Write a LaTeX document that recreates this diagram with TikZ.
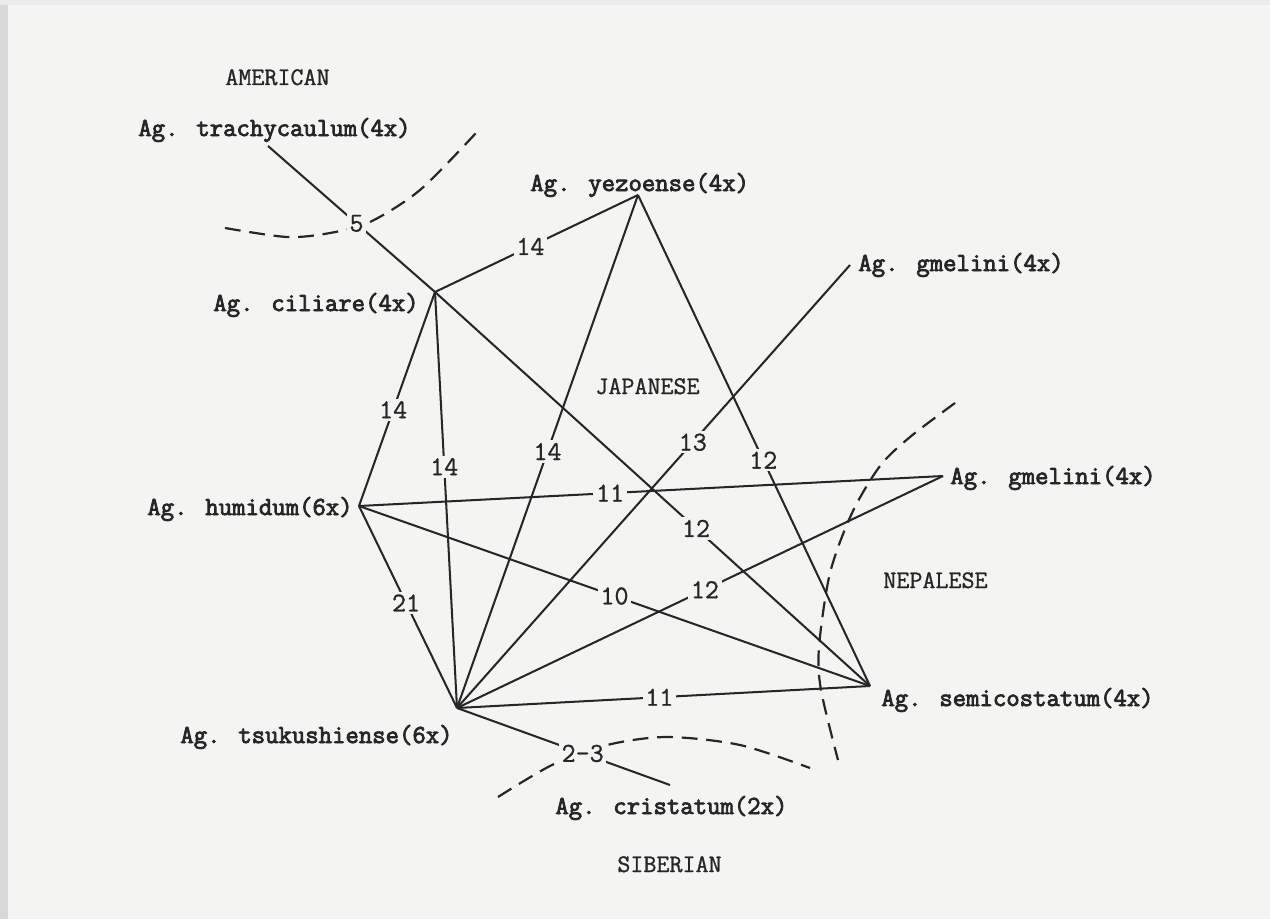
\documentclass[tikz,border=0pt]{standalone}
\usepackage{fontspec}
\newfontfamily\twb{Latin Modern Mono}[FakeBold=3]
\newfontfamily\twr{Latin Modern Mono}[FakeBold=1]
\definecolor{paper}{RGB}{244,244,242}
\definecolor{ink}{RGB}{38,38,38}
\begin{document}
\begin{tikzpicture}[x=0.02cm,y=-0.02cm,
  spname/.style={anchor=base west,inner sep=0pt,text=ink,font=\twb\fontsize{14.8}{17}\selectfont},
  region/.style={anchor=base west,inner sep=0pt,text=ink,font=\twr\fontsize{14.4}{17}\selectfont},
  lab/.style={fill=paper,inner sep=1.5pt,text=ink,font=\twr\fontsize{15.5}{17}\selectfont},
  link/.style={draw=ink,line width=1.15pt},
  border/.style={draw=ink,line width=1.25pt,dash pattern=on 9pt off 5pt}]
\fill[paper] (0,0) rectangle (1270,919);
\fill[black!15] (0,0) rectangle (8,919);
\fill[black!8] (0,0) rectangle (1270,5);
\useasboundingbox (0,0) rectangle (1270,919);

% text nodes
\node[region] (am)  at (225,85)  {AMERICAN};
\node[spname] (trT) at (138,136) {Ag. trachycaulum(4x)};
\node[spname] (yeT) at (530,191) {Ag. yezoense(4x)};
\node[spname] (g1T) at (858,271) {Ag. gmelini(4x)};
\node[spname] (ciT) at (213,311) {Ag. ciliare(4x)};
\node[region] (jp) at (595,394) {JAPANESE};
\node[spname] (g2T) at (950,484) {Ag. gmelini(4x)};
\node[spname] (huT) at (147,515) {Ag. humidum(6x)};
\node[region] (np) at (883,588) {NEPALESE};
\node[spname] (seT) at (881,706) {Ag. semicostatum(4x)};
\node[spname] (tsT) at (180,743) {Ag. tsukushiense(6x)};
\node[spname] (crT) at (555,814) {Ag. cristatum(2x)};
\node[region] (sb) at (617,872) {SIBERIAN};

% junction points
\coordinate (tr) at (268,146);
\coordinate (ye) at (638,195);
\coordinate (g1) at (850,265);
\coordinate (ci) at (435,292);
\coordinate (g2) at (943,476);
\coordinate (hu) at (359,506);
\coordinate (se) at (870,686);
\coordinate (ts) at (457,708);
\coordinate (cr) at (670,785);

% dashed boundaries
\draw[border] plot[smooth] coordinates {(225,228) (287,237) (330,233) (370,222) (420,190) (476,133)};
\draw[border] plot[smooth] coordinates {(955,403) (910,437) (880,466) (852,513) (830,573) (819,647) (821,690) (838,760)};
\draw[border] plot[smooth] coordinates {(498,797) (552,765) (607,745) (667,737) (740,745) (810,768)};

% connectors
\foreach \a/\b in {tr/ci, ci/ye, ci/se, ci/hu, ci/ts, ye/ts, ye/se, g1/ts, hu/g2, hu/se, hu/ts, ts/g2, ts/se, ts/cr}
  \draw[link] (\a) -- (\b);

% labels
\path (tr) -- node[lab,pos=.53]{5} (ci);
\path (ci) -- node[lab,pos=.47]{14} (ye);
\path (ci) -- node[lab,pos=.60]{12} (se);
\path (ci) -- node[lab,pos=.55]{14} (hu);
\path (ci) -- node[lab,pos=.42]{14} (ts);
\path (ye) -- node[lab,pos=.50]{14} (ts);
\path (ye) -- node[lab,pos=.54]{12} (se);
\path (g1) -- node[lab,pos=.40]{13} (ts);
\path (hu) -- node[lab,pos=.43]{11} (g2);
\path (hu) -- node[lab,pos=.50]{10} (se);
\path (hu) -- node[lab,pos=.48]{21} (ts);
\path (ts) -- node[lab,pos=.51]{12} (g2);
\path (ts) -- node[lab,pos=.49]{11} (se);
\path (ts) -- node[lab,pos=.59]{2-3} (cr);
\end{tikzpicture}
\end{document}
